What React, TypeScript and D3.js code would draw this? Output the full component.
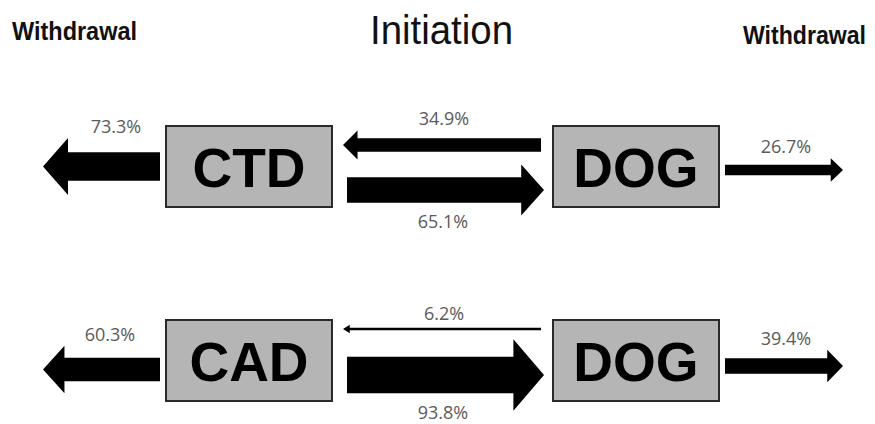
import React from "react";
import * as d3 from "d3";

// ---- data ----
const pairLabels = ["CTD", "CAD"];
const partnerLabels = ["DOG", "DOG"];
const leftWithdrawal = [73.3, 60.3];
const initiationToLeft = [34.9, 6.2];
const initiationToRight = [65.1, 93.8];
const rightWithdrawal = [26.7, 39.4];
const headerLeft = "Withdrawal";
const headerCenter = "Initiation";
const headerRight = "Withdrawal";

// ---- layout ----
const W = 875;
const H = 424;
const rows = [
  { boxTop: 126, leftY: 166.5, upperY: 145, lowerY: 190, rightY: 170 },
  { boxTop: 320, leftY: 369.5, upperY: 329, lowerY: 375, rightY: 366 },
];
const boxH = 81;
const leftBox = { x0: 166, x1: 332 };
const rightBox = { x0: 553, x1: 719 };
const leftArrowX = { tail: 160, tip: 43 };
const upperArrowX = { tail: 541, tip: 343 };
const lowerArrowX = { tail: 347, tip: 544 };
const rightArrowX = { tail: 725, tip: 843 };

const thick = d3.scaleLinear().domain([0, 100]).range([0, 39]);

function arrowGeom(tail: number, tip: number, y: number, pct: number) {
  const t = Math.max(thick(pct), 2.5);
  const h = t * 1.85 + 4;
  const L = t * 0.7 + 5;
  const dir = tip > tail ? 1 : -1;
  const base = tip - dir * L;
  const pts: [number, number][] = [
    [tail, y - t / 2],
    [base, y - t / 2],
    [base, y - h / 2],
    [tip, y],
    [base, y + h / 2],
    [base, y + t / 2],
    [tail, y + t / 2],
  ];
  const d = d3.line()(pts) + "Z";
  return { d, top: y - h / 2, bottom: y + h / 2, cx: (tail + tip) / 2 };
}

const pctFmt = (v: number) => d3.format(".1f")(v) + "%";
const pctStyle = { fontFamily: "'Open Sans', sans-serif", fontSize: 18, fill: "#5a5a5a" } as const;
const headStyle = { fontFamily: "'Liberation Sans', Arial, sans-serif", fontWeight: 700, fontSize: 25 } as const;

export default function App() {
  return (
    <svg width={W} height={H} style={{ position: "absolute", left: 0, top: 0, background: "#fff" }}>
      <text x={12} y={40} textLength={125} lengthAdjust="spacingAndGlyphs" style={headStyle} fill="#111">
        {headerLeft}
      </text>
      <text x={370} y={44} textLength={143} lengthAdjust="spacingAndGlyphs"
        style={{ fontFamily: "'Liberation Sans', Arial, sans-serif", fontSize: 40 }} fill="#111">
        {headerCenter}
      </text>
      <text x={743} y={44} textLength={123} lengthAdjust="spacingAndGlyphs" style={headStyle} fill="#111">
        {headerRight}
      </text>

      {rows.map((r, i) => {
        const la = arrowGeom(leftArrowX.tail, leftArrowX.tip, r.leftY, leftWithdrawal[i]);
        const ua = arrowGeom(upperArrowX.tail, upperArrowX.tip, r.upperY, initiationToLeft[i]);
        const wa = arrowGeom(lowerArrowX.tail, lowerArrowX.tip, r.lowerY, initiationToRight[i]);
        const ra = arrowGeom(rightArrowX.tail, rightArrowX.tip, r.rightY, rightWithdrawal[i]);
        const boxCy = r.boxTop + boxH / 2;
        return (
          <g key={i}>
            {[leftBox, rightBox].map((b, j) => (
              <g key={j}>
                <rect x={b.x0} y={r.boxTop} width={b.x1 - b.x0} height={boxH}
                  fill="#b5b5b5" stroke="#2a2a2a" strokeWidth={2} />
                <text x={(b.x0 + b.x1) / 2} y={boxCy + 20} textAnchor="middle"
                  style={{ fontFamily: "'Liberation Sans', Arial, sans-serif", fontWeight: 700, fontSize: 55 }}
                  fill="#000">
                  {j === 0 ? pairLabels[i] : partnerLabels[i]}
                </text>
              </g>
            ))}
            <path d={la.d} fill="#000" />
            <path d={ua.d} fill="#000" />
            <path d={wa.d} fill="#000" />
            <path d={ra.d} fill="#000" />
            <text x={i === 0 ? 116 : 110} y={la.top - 5} textAnchor="middle" style={pctStyle}>{pctFmt(leftWithdrawal[i])}</text>
            <text x={444} y={ua.top - 5} textAnchor="middle" style={pctStyle}>{pctFmt(initiationToLeft[i])}</text>
            <text x={443} y={Math.min(wa.bottom + 13, 419)} textAnchor="middle" style={pctStyle}>{pctFmt(initiationToRight[i])}</text>
            <text x={786} y={ra.top - 5} textAnchor="middle" style={pctStyle}>{pctFmt(rightWithdrawal[i])}</text>
          </g>
        );
      })}
    </svg>
  );
}
